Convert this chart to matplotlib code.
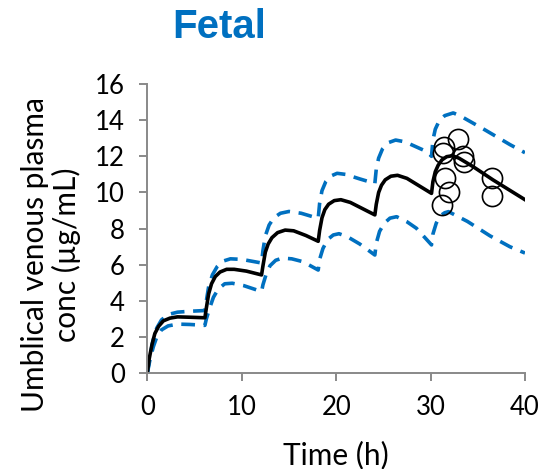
import numpy as np
import matplotlib
matplotlib.use('Agg')
import matplotlib.pyplot as plt

# model prediction (median)
t_med = [0, 0.2, 0.5, 0.8, 1.2, 1.7, 2.4, 3.2, 4.5, 6.1,
         6.25, 6.5, 6.8, 7.2, 7.7, 8.4, 9.2, 10.5, 12.1,
         12.25, 12.5, 12.8, 13.2, 13.8, 14.6, 15.5, 16.8, 18.1,
         18.25, 18.5, 18.8, 19.2, 19.8, 20.5, 21.5, 24.1,
         24.25, 24.5, 24.8, 25.2, 25.8, 26.5, 27.5, 30.1,
         30.25, 30.5, 30.8, 31.2, 31.7, 32.3, 33.0, 34.5, 36.6, 40.0]
c_med = [0, 0.8, 1.6, 2.2, 2.6, 2.9, 3.05, 3.12, 3.1, 3.07,
         3.6, 4.4, 4.95, 5.35, 5.6, 5.75, 5.75, 5.65, 5.44,
         5.95, 6.7, 7.15, 7.5, 7.78, 7.92, 7.88, 7.62, 7.3,
         7.9, 8.6, 9.05, 9.35, 9.55, 9.6, 9.45, 8.76,
         9.35, 10.0, 10.4, 10.7, 10.9, 10.95, 10.78, 9.95,
         10.6, 11.15, 11.5, 11.8, 11.98, 12.03, 11.9, 11.43, 10.7, 9.6]

# upper bound
t_hi = [0, 0.3, 0.6, 1.0, 1.5, 2.2, 3.2, 4.5, 6.1,
        6.25, 6.5, 6.9, 7.4, 8.0, 8.8, 10.0, 12.1,
        12.25, 12.5, 12.9, 13.4, 14.1, 15.0, 16.3, 18.1,
        18.25, 18.5, 18.9, 19.4, 20.1, 21.0, 22.5, 24.1,
        24.25, 24.5, 24.9, 25.5, 26.3, 27.3, 29.6, 30.1,
        30.25, 30.5, 30.9, 31.5, 32.4, 33.1, 35.8, 38.4, 40.0]
c_hi = [0, 1.0, 1.8, 2.5, 2.95, 3.25, 3.38, 3.43, 3.47,
        4.0, 4.8, 5.45, 5.9, 6.2, 6.33, 6.3, 6.1,
        6.8, 7.6, 8.2, 8.6, 8.85, 8.95, 8.85, 8.57,
        9.4, 10.1, 10.6, 10.9, 11.06, 11.0, 10.75, 10.5,
        11.3, 11.9, 12.4, 12.75, 12.9, 12.8, 12.26, 12.0,
        12.9, 13.5, 13.95, 14.25, 14.4, 14.25, 13.45, 12.65, 12.2]

# lower bound
t_lo = [0, 0.3, 0.64, 1.0, 1.5, 2.2, 3.2, 4.5, 6.1,
        6.25, 6.6, 7.0, 7.5, 8.2, 9.0, 10.2, 12.1,
        12.25, 12.6, 13.0, 13.6, 14.3, 15.3, 16.5, 18.1,
        18.25, 18.6, 19.1, 19.7, 20.3, 21.2, 22.5, 24.1,
        24.25, 24.6, 25.1, 25.7, 26.4, 27.5, 28.5, 30.1,
        30.25, 30.6, 31.0, 31.5, 31.9, 33.9, 36.3, 38.4, 40.0]
c_lo = [0, 0.8, 1.47, 2.0, 2.4, 2.62, 2.72, 2.7, 2.65,
        3.0, 3.6, 4.2, 4.65, 4.95, 4.98, 4.85, 4.52,
        4.9, 5.5, 5.95, 6.25, 6.37, 6.33, 6.17, 5.71,
        6.3, 6.9, 7.4, 7.65, 7.72, 7.55, 7.15, 6.54,
        7.2, 7.85, 8.3, 8.58, 8.66, 8.38, 8.02, 7.1,
        7.7, 8.3, 8.7, 8.88, 8.94, 8.4, 7.6, 7.0, 6.65]

# observed data
t_obs = [31.4, 31.35, 32.9, 33.4, 33.5, 31.5, 32.0, 31.24, 36.5, 36.5]
c_obs = [12.5, 12.2, 12.96, 12.02, 11.7, 10.78, 10.0, 9.31, 10.78, 9.8]

blue = '#0070C0'
grey = '#898989'

plt.rcParams['font.family'] = ['Lato', 'DejaVu Sans']

fig = plt.figure(figsize=(5.39, 4.69), dpi=100)
ax = fig.add_axes([0.2733, 0.2041, 0.9740 - 0.2733, 0.8209 - 0.2041])

ax.plot(t_hi, c_hi, color=blue, lw=2.6, dashes=(3.8, 2.4))
ax.plot(t_lo, c_lo, color=blue, lw=2.6, dashes=(3.8, 2.4))
ax.plot(t_med, c_med, color='black', lw=2.6, solid_joinstyle='round')
ax.plot(t_obs, c_obs, 'o', ms=14.5, mfc='none', mec='black', mew=1.2)

ax.set_xlim(0, 40)
ax.set_ylim(0, 16)
ax.set_xticks([0, 10, 20, 30, 40])
ax.set_yticks(np.arange(0, 17, 2))
for s in ['top', 'right']:
    ax.spines[s].set_visible(False)
for s in ['left', 'bottom']:
    ax.spines[s].set_color(grey)
    ax.spines[s].set_linewidth(1.4)
ax.tick_params(colors=grey, labelcolor='black', labelsize=18.5, length=6,
               width=1.4, pad=10)

ax.set_xlabel('Time (h)', fontsize=21.5)
ax.set_ylabel('Umblical venous plasma\nconc (µg/mL)', fontsize=21.5,
              linespacing=1.12)
ax.yaxis.set_label_coords(-0.175, 0.41)
ax.xaxis.set_label_coords(0.5, -0.235)

fig.text(0.406, 0.943, 'Fetal', color=blue, fontsize=29, fontweight='bold',
         family='Liberation Sans', ha='center', va='center')

fig.savefig('out.png', dpi=100)
